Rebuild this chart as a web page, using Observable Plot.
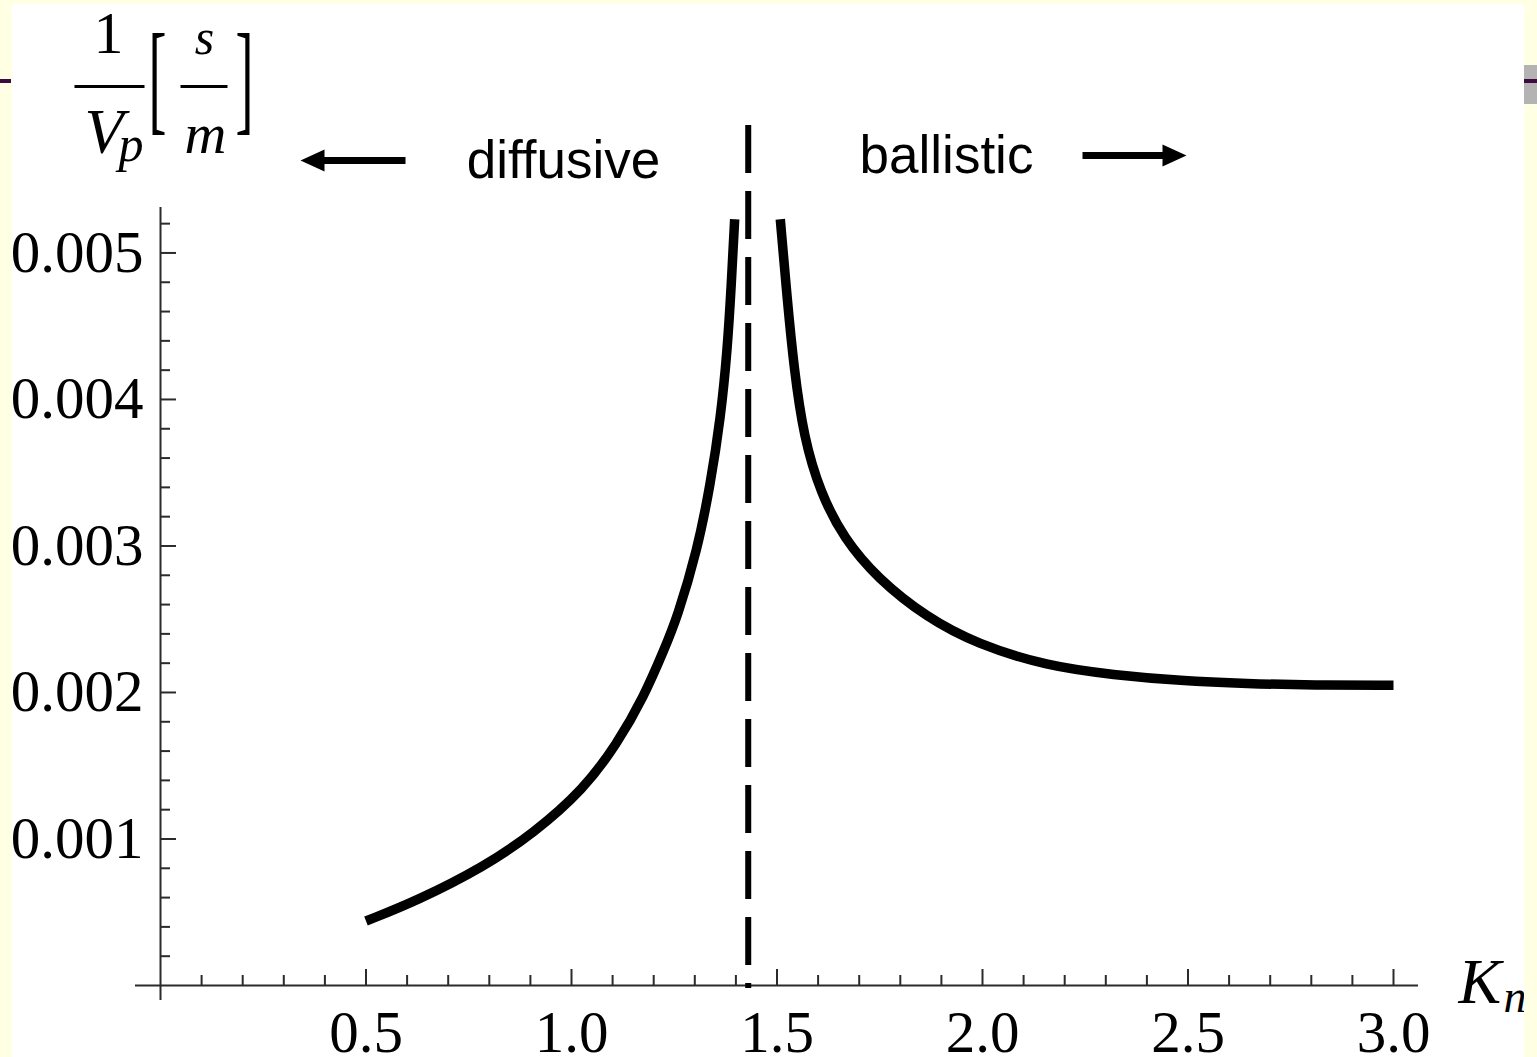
<!DOCTYPE html>
<html>
<head>
<meta charset="utf-8">
<script src="https://cdn.jsdelivr.net/npm/d3@7"></script>
<script src="https://cdn.jsdelivr.net/npm/@observablehq/plot@0.6"></script>
<style>
  html, body { margin: 0; padding: 0; background: #FFFFE3; overflow: hidden; }
  #wrap { position: relative; width: 1537px; height: 1057px; }
  #wrap svg { position: absolute; left: 0; top: 0; }
  .deco { position: absolute; }
</style>
</head>
<body>
<div id="wrap"></div>
<script>
// Inverse phase velocity 1/Vp [s/m] against Knudsen number Kn,
// split into a diffusive branch and a ballistic branch around the crossover.
const diffusiveKn    = [0.500, 0.625, 0.787, 0.908, 1.030, 1.111, 1.176, 1.225, 1.257, 1.306, 1.338, 1.363, 1.379, 1.389, 1.397];
const diffusiveInvVp = [0.00044, 0.00058, 0.00081, 0.00104, 0.00134, 0.00165, 0.00197, 0.00229, 0.00251, 0.00297, 0.00342, 0.00388, 0.00433, 0.00479, 0.00523];

const ballisticKn    = [1.508, 1.525, 1.541, 1.565, 1.606, 1.663, 1.744, 1.865, 1.987, 2.157, 2.319, 2.482, 2.644, 2.806, 3.000];
const ballisticInvVp = [0.00523, 0.00468, 0.00422, 0.00374, 0.00336, 0.00305, 0.00278, 0.00251, 0.00233, 0.00218, 0.00212, 0.00208, 0.00206, 0.00205, 0.00205];

const crossoverKn = 1.43;

const xMajorTicks = [0.5, 1.0, 1.5, 2.0, 2.5, 3.0];
const yMajorTicks = [0.001, 0.002, 0.003, 0.004, 0.005];
const xMinorTicks = d3.range(1, 31).map(i => i / 10).filter(v => !xMajorTicks.some(m => Math.abs(m - v) < 1e-9));
const yMinorTicks = d3.range(1, 27).map(i => i * 0.0002).filter(v => !yMajorTicks.some(m => Math.abs(m - v) < 1e-9));

const regimeLabels = ["diffusive", "ballistic"];

// ---- layout ----
const W = 1537, H = 1057;
const ML = 160, MR = 144, MT = 208.5, MB = 72;
const X_MAX = 3, Y_MAX = 0.0053;
const pxX = (W - ML - MR) / X_MAX;      // pixels per unit Kn
const pxY = (H - MT - MB) / Y_MAX;      // pixels per s/m
const SERIF = "'Liberation Serif', 'Times New Roman', serif";
const SANS = "'Liberation Sans', Arial, sans-serif";

// place a decoration at an absolute pixel position of the svg
const at = (px, py) => ({frameAnchor: "top-left", dx: px - ML, dy: py - MT});

const diffusive = diffusiveKn.map((k, i) => ({kn: k, v: diffusiveInvVp[i]}));
const ballistic = ballisticKn.map((k, i) => ({kn: k, v: ballisticInvVp[i]}));

// custom vector shapes
const lineShape = {draw(ctx, l) { ctx.moveTo(0, 0); ctx.lineTo(0, -l); }};
const solidArrow = {draw(ctx, l) {
  const head = 24, hw = 11, sw = 3.5;
  ctx.moveTo(-sw, 0);
  ctx.lineTo(-sw, -(l - head));
  ctx.lineTo(-hw, -(l - head));
  ctx.lineTo(0, -l);
  ctx.lineTo(hw, -(l - head));
  ctx.lineTo(sw, -(l - head));
  ctx.lineTo(sw, 0);
  ctx.closePath();
}};

const axisColor = "#2b2b2b";

const chart = Plot.plot({
  width: W, height: H,
  marginLeft: ML, marginRight: MR, marginTop: MT, marginBottom: MB,
  x: {domain: [0, X_MAX], axis: null},
  y: {domain: [0, Y_MAX], axis: null},
  style: {background: "white", overflow: "visible"},
  marks: [
    // axes crossing at the origin
    Plot.ruleY([0], {x1: -25 / pxX, x2: X_MAX + 25 / pxX, stroke: axisColor, strokeWidth: 2}),
    Plot.ruleX([0], {y1: -15 / pxY, y2: Y_MAX + 1.5 / pxY, stroke: axisColor, strokeWidth: 2}),

    // inward ticks
    Plot.ruleX(xMajorTicks, {x: d => d, y1: 0, y2: 16 / pxY, stroke: axisColor, strokeWidth: 2}),
    Plot.ruleX(xMinorTicks, {x: d => d, y1: 0, y2: 10 / pxY, stroke: axisColor, strokeWidth: 2}),
    Plot.ruleY(yMajorTicks, {y: d => d, x1: 0, x2: 16 / pxX, stroke: axisColor, strokeWidth: 2}),
    Plot.ruleY(yMinorTicks, {y: d => d, x1: 0, x2: 10 / pxX, stroke: axisColor, strokeWidth: 2}),

    // tick labels
    Plot.text(xMajorTicks, {x: d => d, y: 0, text: d => d.toFixed(1), dy: 66, lineAnchor: "bottom",
      textAnchor: "middle", fontFamily: SERIF, fontSize: 59, fill: "black"}),
    Plot.text(yMajorTicks, {x: 0, y: d => d, text: d => d3.format(".3f")(d), dx: -17, lineAnchor: "middle",
      textAnchor: "end", fontFamily: SERIF, fontSize: 59, fill: "black"}),

    // crossover between the two regimes
    Plot.ruleX([crossoverKn], {y1: 860 / pxY, y2: -3 / pxY, stroke: "black", strokeWidth: 6, strokeDasharray: "48,18"}),

    // the two branches (B-spline through the sampled points)
    Plot.line(diffusive, {x: "kn", y: "v", stroke: "black", strokeWidth: 9.5, curve: "basis", strokeLinecap: "butt"}),
    Plot.line(ballistic, {x: "kn", y: "v", stroke: "black", strokeWidth: 9.5, curve: "basis", strokeLinecap: "butt"}),

    // regime annotations
    Plot.text([regimeLabels[0]], {...at(563, 177), text: d => d, textAnchor: "middle", lineAnchor: "bottom",
      fontFamily: SANS, fontSize: 53, fill: "black"}),
    Plot.text([regimeLabels[1]], {...at(946, 172), text: d => d, textAnchor: "middle", lineAnchor: "bottom",
      fontFamily: SANS, fontSize: 53, fill: "black"}),
    Plot.vector([0], {...at(405, 160), length: 105, rotate: -90, anchor: "start", shape: solidArrow, fill: "black", stroke: "none"}),
    Plot.vector([0], {...at(1082, 155), length: 104, rotate: 90, anchor: "start", shape: solidArrow, fill: "black", stroke: "none"}),

    // y-axis label: 1/Vp [s/m]
    Plot.text(["1"], {...at(108, 52), text: d => d, textAnchor: "middle", lineAnchor: "bottom", fontFamily: SERIF, fontSize: 60, fill: "black"}),
    Plot.vector([0], {...at(74, 86), length: 70, rotate: 90, anchor: "start", shape: lineShape, stroke: "black", strokeWidth: 3, strokeLinecap: "butt"}),
    Plot.text(["V"], {...at(84, 152), text: d => d, textAnchor: "start", lineAnchor: "bottom", fontFamily: SERIF, fontStyle: "italic", fontSize: 64, fill: "black"}),
    Plot.text(["p"], {...at(118, 160), text: d => d, textAnchor: "start", lineAnchor: "bottom", fontFamily: SERIF, fontStyle: "italic", fontSize: 50, fill: "black"}),
    Plot.text(["["], {...at(148, 118), text: d => d, textAnchor: "start", lineAnchor: "bottom", fontFamily: SERIF, fontSize: 54, fill: "black"}),
    Plot.text(["s"], {...at(204, 53), text: d => d, textAnchor: "middle", lineAnchor: "bottom", fontFamily: SERIF, fontStyle: "italic", fontSize: 50, fill: "black"}),
    Plot.vector([0], {...at(180, 86), length: 47, rotate: 90, anchor: "start", shape: lineShape, stroke: "black", strokeWidth: 3, strokeLinecap: "butt"}),
    Plot.text(["m"], {...at(205, 152), text: d => d, textAnchor: "middle", lineAnchor: "bottom", fontFamily: SERIF, fontStyle: "italic", fontSize: 58, fill: "black"}),
    Plot.text(["]"], {...at(253, 118), text: d => d, textAnchor: "end", lineAnchor: "bottom", fontFamily: SERIF, fontSize: 54, fill: "black"}),

    // x-axis label: Kn
    Plot.text(["K"], {...at(1458, 1002), text: d => d, textAnchor: "start", lineAnchor: "bottom", fontFamily: SERIF, fontStyle: "italic", fontSize: 64, fill: "black"}),
    Plot.text(["n"], {...at(1503, 1011), text: d => d, textAnchor: "start", lineAnchor: "bottom", fontFamily: SERIF, fontStyle: "italic", fontSize: 46, fill: "black"})
  ]
});

// stretch the square brackets vertically so they enclose the fraction
d3.select(chart).selectAll("text")
  .filter(function () { return this.textContent === "[" || this.textContent === "]"; })
  .each(function () {
    const t = this.getAttribute("transform");
    if (t) {
      this.setAttribute("transform", t + " scale(1,2.27)");
    } else {
      const x = +this.getAttribute("x") || 0, y = +this.getAttribute("y") || 0;
      this.removeAttribute("x"); this.removeAttribute("y");
      this.setAttribute("transform", `translate(${x},${y}) scale(1,2.27)`);
    }
  });

const wrap = document.getElementById("wrap");
wrap.appendChild(chart);

// slide frame around the chart
const deco = (l, t, w, h, bg) => {
  const d = document.createElement("div");
  d.className = "deco";
  Object.assign(d.style, {left: l + "px", top: t + "px", width: w + "px", height: h + "px", background: bg});
  wrap.appendChild(d);
};
deco(0, 0, 12, H, "#FFFFE3");
deco(0, 0, W, 4, "#FFFFE3");
deco(1524, 0, 13, H, "#FFFFE3");
deco(0, 79, 11, 4, "#3c0c40");
deco(1524, 65, 13, 39, "#b3b3b3");
deco(1524, 79, 13, 4, "#3c0c40");
</script>
</body>
</html>
